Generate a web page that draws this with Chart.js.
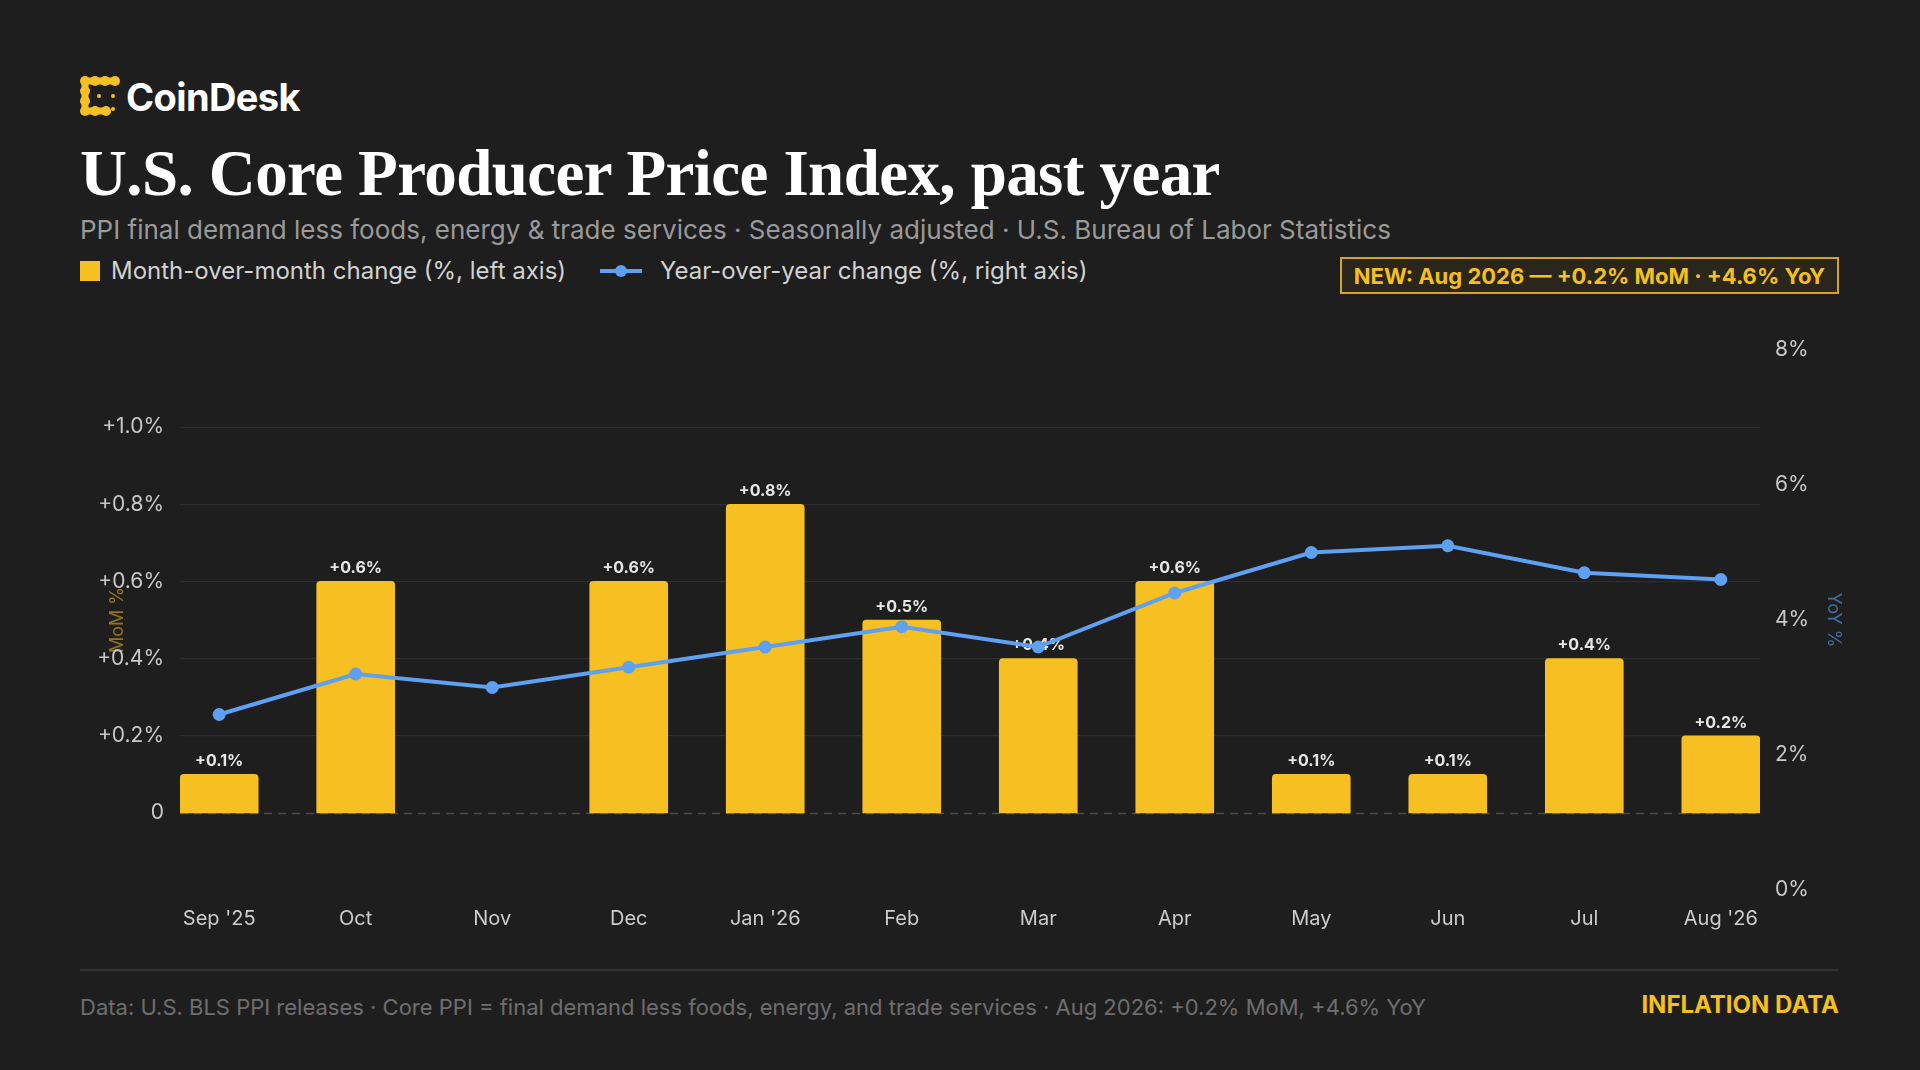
<!DOCTYPE html>
<html><head><meta charset="utf-8">
<script src="https://cdn.jsdelivr.net/npm/chart.js@4.4.1/dist/chart.umd.min.js"></script>
<style>
html,body{margin:0;padding:0;background:#1e1e1e;width:1920px;height:1070px;overflow:hidden;font-family:Inter,"Noto Sans",sans-serif;}
.abs{position:absolute;white-space:nowrap;}
#logo{left:80px;top:76px;width:40px;height:40px;}
#brand{left:126px;top:78px;font-size:38px;line-height:38px;font-weight:700;color:#fff;letter-spacing:-0.6px}
#title{left:80px;top:141px;font-family:"Liberation Serif",serif;font-weight:700;font-size:65px;line-height:65px;color:#fff;letter-spacing:-0.6px}
#sub{left:80px;top:217px;font-size:26px;line-height:26px;color:#9a9a9a}
.leg{font-size:24px;line-height:24px;color:#d2d2d2;top:259px}
.sq{position:absolute;left:80px;top:261px;width:20px;height:20px;background:#f6bf22}
.ln{position:absolute;left:600px;top:269px;width:42px;height:4px;background:#5ea0f2}
.dot{position:absolute;left:615px;top:265px;width:12px;height:12px;border-radius:6px;background:#5ea0f2}
#badge{position:absolute;left:1340px;top:257px;width:499px;height:37px;box-sizing:border-box;border:2px solid #d2a52a;background:#2a261b;color:#f5c01f;font-weight:700;font-size:22px;display:flex;align-items:center;justify-content:center;white-space:nowrap}
#rule{position:absolute;left:80px;top:969px;width:1759px;height:2px;background:#323232}
#foot{left:80px;top:996px;font-size:22px;line-height:22px;color:#6e6e6e}
#tag{right:81px;top:993px;font-size:24px;line-height:24px;color:#f5c01f;font-weight:700}
#c{position:absolute;left:0;top:300px;}
</style></head>
<body>
<svg id="logo" class="abs" viewBox="0 0 40 40">
  <g fill="#f6bf22" stroke="#f6bf22">
    <polyline points="35,5 5,5 5,35 27,35" fill="none" stroke-width="7" stroke-linejoin="round" stroke-linecap="round"/>
    <g stroke="none">
      <circle cx="5" cy="5" r="5"/><circle cx="15" cy="5" r="5"/><circle cx="25" cy="5" r="5"/><circle cx="35" cy="5" r="5"/>
      <circle cx="5" cy="15" r="5"/><circle cx="5" cy="25" r="5"/><circle cx="5" cy="35" r="5"/>
      <circle cx="15" cy="35" r="5"/><circle cx="26" cy="35" r="5"/>
      <circle cx="19" cy="20" r="2"/><circle cx="33" cy="20" r="2"/><circle cx="33" cy="33" r="2"/>
    </g>
  </g>
</svg>
<div id="brand" class="abs">CoinDesk</div>
<div id="title" class="abs">U.S. Core Producer Price Index, past year</div>
<div id="sub" class="abs">PPI final demand less foods, energy &amp; trade services · Seasonally adjusted · U.S. Bureau of Labor Statistics</div>
<div class="sq"></div>
<div class="abs leg" style="left:111px">Month-over-month change (%, left axis)</div>
<div class="ln"></div><div class="dot"></div>
<div class="abs leg" style="left:660px">Year-over-year change (%, right axis)</div>
<div id="badge">NEW: Aug 2026 — +0.2% MoM · +4.6% YoY</div>
<canvas id="c" width="1920" height="650" style="width:1920px;height:650px"></canvas>
<div id="rule"></div>
<div id="foot" class="abs">Data: U.S. BLS PPI releases · Core PPI = final demand less foods, energy, and trade services · Aug 2026: +0.2% MoM, +4.6% YoY</div>
<div id="tag" class="abs">INFLATION DATA</div>
<script>
const months = ["Sep '25","Oct","Nov","Dec","Jan '26","Feb","Mar","Apr","May","Jun","Jul","Aug '26"];
const momValues = [0.1,0.6,null,0.6,0.8,0.5,0.4,0.6,0.1,0.1,0.4,0.2];
const yoyValues = [2.6,3.2,3.0,3.3,3.6,3.9,3.6,4.4,5.0,5.1,4.7,4.6];
const leftTickValues = [0,0.2,0.4,0.6,0.8,1.0];
const rightTickValues = [0,2,4,6,8];

const BAR = '#f6bf22', LINE = '#5ea0f2';
const r1 = v => Math.round(v*10)/10;

const barLabels = {
  id:'barLabels',
  afterDatasetDraw(chart, args){
    if(args.index !== 0) return;
    const ctx = chart.ctx;
    ctx.save();
    ctx.font = '700 16px Inter, sans-serif';
    ctx.fillStyle = '#e6e6e6';
    ctx.textAlign = 'center';
    ctx.textBaseline = 'middle';
    args.meta.data.forEach((el,i)=>{
      const v = momValues[i];
      if(v == null) return;
      ctx.fillText('+' + v.toFixed(1) + '%', el.x, el.y - 13);
    });
    ctx.restore();
  }
};
const zeroLine = {
  id:'zeroLine',
  beforeDatasetsDraw(chart){
    const ctx = chart.ctx, a = chart.chartArea;
    const y = Math.round(chart.scales.y.getPixelForValue(0)) + 0.5;
    ctx.save();
    ctx.strokeStyle = '#4c4c4c';
    ctx.lineWidth = 1.5;
    ctx.setLineDash([8,6]);
    ctx.beginPath(); ctx.moveTo(a.left, y); ctx.lineTo(a.right, y); ctx.stroke();
    ctx.restore();
  }
};

new Chart(document.getElementById('c'), {
  data: {
    datasets: [
      { type:'bar', label:'MoM', order:2, yAxisID:'y', xAxisID:'x',
        data: months.map((m,i)=>({x:i, y:momValues[i]})),
        backgroundColor: BAR, barThickness: 78,
        borderRadius: {topLeft:4, topRight:4, bottomLeft:0, bottomRight:0}, borderSkipped:'start' },
      { type:'line', label:'YoY', order:1, yAxisID:'y2', xAxisID:'x',
        data: months.map((m,i)=>({x:i, y:yoyValues[i]})),
        borderColor: LINE, backgroundColor: LINE, borderWidth: 4,
        pointRadius: 6.5, pointBackgroundColor: LINE, pointBorderWidth: 0, tension: 0 }
    ]
  },
  options: {
    responsive:false, animation:false, devicePixelRatio:1,
    layout:{ padding:{ top:50, left:0, right:0, bottom:0 } },
    plugins:{ legend:{display:false}, tooltip:{enabled:false} },
    scales:{
      x:{ type:'linear', position:'bottom', min:-0.2871, max:11.2871, offset:false,
        grid:{display:false, offset:false}, border:{display:false},
        ticks:{ stepSize:1, includeBounds:false, autoSkip:false, maxRotation:0, maxTicksLimit:20,
          color:'#cccccc', font:{family:'Inter', size:20}, padding:8.5,
          callback:(v)=> Number.isInteger(v) ? months[v] : '' },
        afterFit:(s)=>{ s.height = 60; } },
      y:{ type:'linear', position:'left', min:-0.2, max:1.2,
        grid:{ drawTicks:false, lineWidth:1.2,
          color:(c)=>{ const v = r1(c.tick.value); return (v>0 && leftTickValues.includes(v)) ? '#2e2e2e' : 'rgba(0,0,0,0)'; } },
        border:{display:false},
        ticks:{ stepSize:0.2, color:'#c8c8c8', font:{family:'Inter', size:21}, padding:16,
          callback:(v)=>{ const x = r1(v); if(!leftTickValues.includes(x)) return ''; return x===0 ? '0' : '+' + x.toFixed(1) + '%'; } },
        title:{ display:true, text:'MoM %', color:'rgba(246,191,34,0.55)', font:{family:'Inter', size:18}, padding:{top:107,bottom:0} },
        afterFit:(s)=>{ s.width = 180; } },
      y2:{ type:'linear', position:'right', min:0, max:8,
        grid:{display:false, drawTicks:false}, border:{display:false},
        ticks:{ stepSize:2, color:'#c8c8c8', font:{family:'Inter', size:21}, padding:15,
          callback:(v)=> rightTickValues.includes(v) ? v + '%' : '' },
        title:{ display:true, text:'YoY %', color:'rgba(94,160,242,0.6)', font:{family:'Inter', size:18}, padding:{top:76,bottom:0} },
        afterFit:(s)=>{ s.width = 160; } }
    }
  },
  plugins:[zeroLine, barLabels]
});
</script>
</body></html>
